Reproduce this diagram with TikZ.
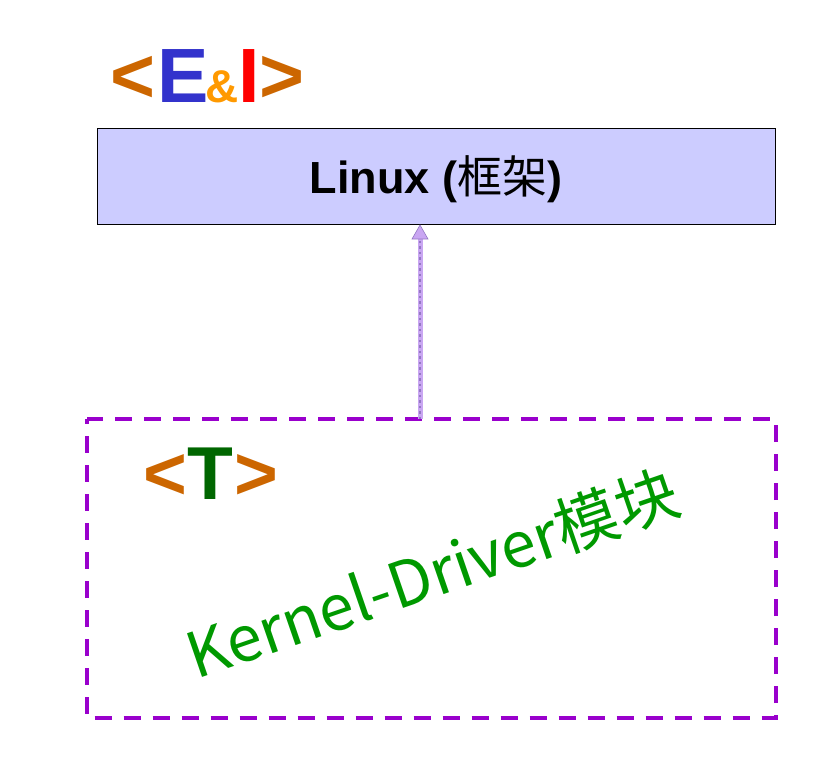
\documentclass[tikz,border=0pt]{standalone}
\usepackage{fontspec}
\setmainfont{Liberation Sans}
\newfontfamily\cjk{Noto Sans CJK SC}
\usetikzlibrary{arrows.meta}
\definecolor{frameblue}{HTML}{CCCCFF}
\definecolor{logoorange}{HTML}{CC6600}
\definecolor{logoblue}{HTML}{3333CC}
\definecolor{amp}{HTML}{FF9900}
\definecolor{logored}{HTML}{FF0000}
\definecolor{tgreen}{HTML}{006600}
\definecolor{kgreen}{HTML}{009900}
\definecolor{boxpurple}{HTML}{9900CC}
\definecolor{arrowlight}{HTML}{C9A6F2}
\definecolor{arrowdark}{HTML}{9478C4}
\tikzset{
  logo/.style={inner sep=0pt, anchor=base, font=\fontsize{77}{80}\selectfont\bfseries},
  tlogo/.style={inner sep=0pt, anchor=base, font=\fontsize{75}{78}\selectfont\bfseries},
  framebox/.style={draw=black, line width=1pt, fill=frameblue},
  modulebox/.style={draw=boxpurple, line width=4pt, dash pattern=on 17pt off 12pt, dash phase=12pt},
  dep/.style={line width=5pt, arrowlight},
  depdash/.style={line width=2.5pt, arrowdark, dash pattern=on 2.5pt off 3pt}
}
\begin{document}
\begin{tikzpicture}[x=1pt,y=-1pt]
\useasboundingbox (0,0) rectangle (834,764);
% logo <E&I>
\node[logo, text=logoorange] (lt1) at (133,102) {<};
\node[logo, text=logoblue] (le) at (183,102) {E};
\node[inner sep=0pt, anchor=base, font=\fontsize{46}{48}\selectfont\bfseries, text=amp] (lamp) at (222,102) {\&};
\node[logo, text=logored] (li) at (249.5,102) {I};
\node[logo, text=logoorange] (lgt1) at (281.5,102) {>};
% Linux box
\node[framebox, minimum width=678pt, minimum height=96pt, inner sep=0pt] (linux) at (436,176) {};
\node[inner sep=0pt, anchor=base, font=\fontsize{45}{48}\selectfont] (linuxtxt) at (436,193) {\textbf{Linux (}{\cjk 框架}\textbf{)}};
% module box
\coordinate (mtl) at (86.5,419);
\coordinate (mbr) at (775.5,718);
\draw[modulebox] (mtl) rectangle (mbr);
\coordinate (arrbot) at (420,419);
\coordinate (arrtop) at (420,225);
% dependency arrow
\draw[dep] (arrbot) -- ([yshift=-12pt]arrtop);
\draw[depdash] (arrbot) -- ([yshift=-12pt]arrtop);
\fill[arrowlight, draw=arrowdark, line width=0.6pt] (arrtop) -- ++(-8,14) -- ++(16,0) -- cycle;
% <T>
\node[tlogo, text=logoorange] (lt2) at (165.5,499) {<};
\node[tlogo, text=tgreen] (lT) at (210.5,499) {T};
\node[tlogo, text=logoorange] (lgt2) at (256,499) {>};
% module label
\node[inner sep=0pt, anchor=base, rotate=19, text=kgreen, font=\cjk\fontsize{63}{65}\selectfont] (kd) at (440,596) {Kernel-Driver模块};
\end{tikzpicture}
\end{document}
